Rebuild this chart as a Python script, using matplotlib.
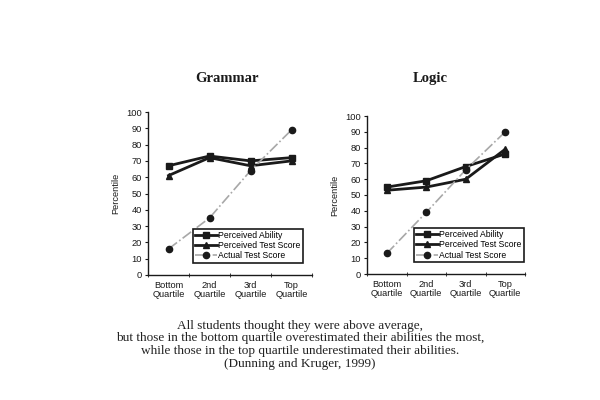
import numpy as np
import matplotlib
matplotlib.use("Agg")
import matplotlib.pyplot as plt

# Datos
quartiles = ["Bottom\nQuartile", "2nd\nQuartile", "3rd\nQuartile", "Top\nQuartile"]
series_names = ["Perceived Ability", "Perceived Test Score", "Actual Test Score"]

grammar_ability = [67, 73, 70, 72]
grammar_perceived = [61, 72, 67, 70]
grammar_actual = [16, 35, 64, 89]

logic_ability = [55, 59, 68, 76]
logic_perceived = [53, 55, 60, 79]
logic_actual = [13, 39, 66, 90]

caption = ("All students thought they were above average,\n"
           "but those in the bottom quartile overestimated their abilities the most,\n"
           "while those in the top quartile underestimated their abilities.\n"
           "(Dunning and Kruger, 1999)")

ink = "#1a1a1a"
sans = ["Liberation Sans", "DejaVu Sans"]
serif = ["Liberation Serif", "DejaVu Serif"]

fig = plt.figure(figsize=(6, 4), dpi=100)
fig.patch.set_facecolor("white")


def panel(rect, ability, perceived, actual, title, title_x, leg_x):
    ax = fig.add_axes(rect)
    x = np.arange(len(quartiles))
    ax.plot(x, ability, color=ink, lw=2, marker="s", ms=4.2, label=series_names[0])
    ax.plot(x, perceived, color=ink, lw=2, marker="^", ms=4.2, label=series_names[1])
    ax.plot(x, actual, color="#a8a8a8", lw=1.2, ls="-.", marker="o", ms=4.5,
            mfc=ink, mec=ink, label=series_names[2])
    ax.set_xlim(-0.5, 3.5)
    ax.set_ylim(0, 100)
    ax.set_yticks(range(0, 101, 10))
    ax.set_xticks(x)
    ax.set_xticklabels(quartiles, fontsize=6.7, family=sans, color=ink, linespacing=1.0)
    ax.set_xticks(np.arange(-0.5, 3.6, 1), minor=True)
    ax.tick_params(axis="x", which="major", length=0, pad=4)
    ax.tick_params(axis="x", which="minor", length=2.5, direction="inout", color=ink)
    ax.tick_params(axis="y", length=2.5, color=ink, labelsize=6.7, pad=2, labelcolor=ink)
    for lab in ax.get_yticklabels():
        lab.set_family(sans)
    ax.set_ylabel("Percentile", fontsize=6.7, family=sans, color=ink, labelpad=4)
    for s in ["top", "right"]:
        ax.spines[s].set_visible(False)
    for s in ["left", "bottom"]:
        ax.spines[s].set_color(ink)
        ax.spines[s].set_linewidth(1)
    leg = ax.legend(loc="lower right", bbox_to_anchor=(leg_x, 0.05),
                    handlelength=2.6, handletextpad=0.1, labelspacing=0.15,
                    borderpad=0.25, fancybox=False, framealpha=1,
                    prop={"family": sans, "size": 6.2})
    leg.get_frame().set_edgecolor(ink)
    leg.get_frame().set_linewidth(1.2)
    fig.text(title_x, 0.803, title, ha="center", va="center", fontsize=10.5,
             fontweight="bold", family=serif, color=ink)
    return ax


panel([0.2467, 0.3125, 0.2733, 0.4075], grammar_ability, grammar_perceived,
      grammar_actual, "Grammar", 0.378, 0.97)
panel([0.6117, 0.315, 0.2633, 0.395], logic_ability, logic_perceived,
      logic_actual, "Logic", 0.717, 1.02)

fig.text(0.5, 0.138, caption, ha="center", va="center", fontsize=9.5,
         family=serif, color="#222222", linespacing=1.07)

fig.savefig("out.png", dpi=100)
